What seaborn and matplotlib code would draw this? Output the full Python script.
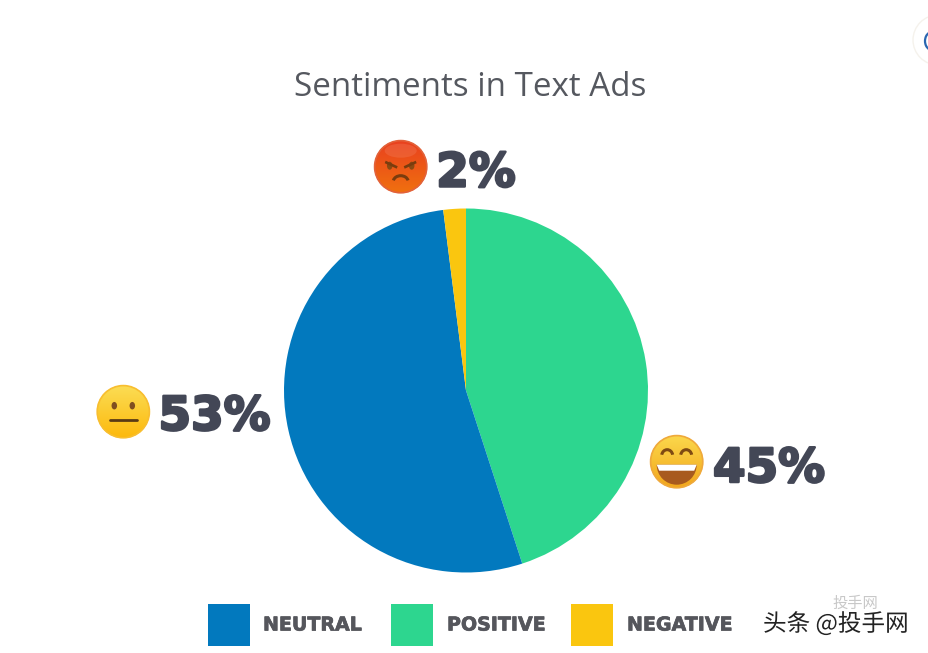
import numpy as np
import matplotlib
matplotlib.use("Agg")
import matplotlib.pyplot as plt
import matplotlib.patheffects as pe
from matplotlib.patches import Circle, Rectangle, Arc, Polygon, Ellipse, Wedge
from matplotlib.colors import LinearSegmentedColormap
import seaborn as sns

# ---- data ----
title = "Sentiments in Text Ads"
pie_categories = ["POSITIVE", "NEUTRAL", "NEGATIVE"]
pie_values = [45, 53, 2]
legend_labels = ["NEUTRAL", "POSITIVE", "NEGATIVE"]
value_labels = ["2%", "53%", "45%"]
colors = {"NEUTRAL": "#0279BE", "POSITIVE": "#2DD68F", "NEGATIVE": "#FAC60F"}
watermark = "头条 @投手网"

sns.set_theme(style="white")
plt.rcParams["font.family"] = ["Open Sans", "Noto Sans CJK SC", "DejaVu Sans"]

W, H = 929, 653
fig = plt.figure(figsize=(W / 100, H / 100), dpi=100, facecolor="white")

# pie axes: centre (466, 390.5), radius 182 px
cx, cy, R = 466, 390.5, 182
ax = fig.add_axes([(cx - R) / W, 1 - (cy + R) / H, 2 * R / W, 2 * R / H])
palette = sns.color_palette([colors[c] for c in pie_categories])
ax.pie(pie_values, colors=palette, startangle=90, counterclock=False, radius=1,
       wedgeprops=dict(linewidth=0))
ax.set_xlim(-1, 1)
ax.set_ylim(-1, 1)
ax.set_aspect("equal")

# overlay in pixel coordinates for annotations
ov = fig.add_axes([0, 0, 1, 1], zorder=5)
ov.set_xlim(0, W)
ov.set_ylim(H, 0)
ov.axis("off")
ov.patch.set_alpha(0)

ov.text(470, 96, title, ha="center", va="baseline", fontsize=23.9,
        color="#55585f", family="Open Sans")

TXT = "#434756"
stroke = [pe.withStroke(linewidth=1.8, foreground=TXT)]
for lab, x, y in zip(value_labels, [476, 214.5, 769], [186.5, 430, 482]):
    ov.text(x, y, lab, ha="center", va="baseline", fontsize=33.7, fontweight="bold",
            color=TXT, family="DejaVu Sans", path_effects=stroke)


def face(x, y, r, top, bottom, rim):
    n = 128
    yy, xx = np.mgrid[-1:1:n * 1j, -1:1:n * 1j]
    cmap = LinearSegmentedColormap.from_list("f", [top, bottom])
    im = ov.imshow(yy, extent=[x - r, x + r, y + r, y - r], cmap=cmap, vmin=-1, vmax=1,
                   origin="upper", aspect="auto", zorder=2)
    clip = Circle((x, y), r, transform=ov.transData)
    im.set_clip_path(clip)
    ov.add_patch(Circle((x, y), r - 0.4, fc="none", ec=rim, lw=1.2, zorder=3))


# angry face
ax0, ay0 = 400.7, 166.7
face(ax0, ay0, 26.5, "#E9401F", "#F0700F", "#E2623A")
ov.add_patch(Ellipse((ax0, ay0 - 16), 32, 14, fc="#F9A58A", ec="none", alpha=.2, zorder=3))
for s in (-1, 1):
    ov.add_patch(Ellipse((ax0 + s * 11, ay0 - 1), 5.5, 8, fc="#8A4A12", ec="none", zorder=4))
    ov.add_patch(Polygon([(ax0 + s * 3, ay0 - 0.5), (ax0 + s * 15, ay0 - 6),
                          (ax0 + s * 16, ay0 - 3.5), (ax0 + s * 4, ay0 + 2)],
                         fc="#7A3C0E", ec="none", zorder=5))
ov.add_patch(Arc((ax0, ay0 + 15), 15, 12, theta1=190, theta2=350, ec="#7A3C0E", lw=2.2, zorder=5))

# neutral face
nx, ny = 123.3, 411.7
face(nx, ny, 26.5, "#FBDD55", "#FDB90C", "#F8BE30")
for s in (-1, 1):
    ov.add_patch(Ellipse((nx + s * 9, ny - 6), 5.5, 7.5, fc="#7F4F20", ec="none", zorder=4))
ov.plot([nx - 13.5, nx + 13.5], [ny + 8, ny + 8], color="#5A3A14", lw=2, zorder=4,
        solid_capstyle="round")

# grinning face
gx, gy = 676.7, 461.7
face(gx, gy, 26.5, "#FBD84C", "#F3A71B", "#EFA93C")
for s in (-1, 1):
    ov.add_patch(Arc((gx + s * 9.5, gy - 6), 11, 12, theta1=190, theta2=350,
                     ec="#7F4A12", lw=2.2, zorder=4))
ov.add_patch(Wedge((gx, gy + 3), 20, 0, 180, fc="#A85A1E", ec="none", zorder=4))
ov.add_patch(Polygon([(gx - 20, gy + 3), (gx + 20, gy + 3), (gx + 17.5, gy + 9), (gx - 17.5, gy + 9)],
                     fc="white", ec="none", zorder=5))

# legend
for lab, bx, tx in zip(legend_labels, [208, 391, 571], [263, 447, 627]):
    ov.add_patch(Rectangle((bx, 604), 42, 42, fc=colors[lab], ec="none", zorder=2))
    ov.text(tx, 630.5, lab, ha="left", va="baseline", fontsize=13.7, fontweight="bold",
            color="#55565c", family="DejaVu Sans",
            path_effects=[pe.withStroke(linewidth=0.5, foreground="#55565c")])

# watermark
ov.text(832, 608, "投手网", ha="left", va="baseline", fontsize=11, color="#c8c8c8",
        family="Noto Sans CJK SC", zorder=3)
ov.text(763, 631, watermark, ha="left", va="baseline", fontsize=17, color="#222222",
        family=["Noto Sans CJK SC", "DejaVu Sans"], zorder=6,
        path_effects=[pe.withStroke(linewidth=1.5, foreground="white")])

# corner badge with a cropped blue glyph
ov.add_patch(Circle((938, 40), 25, fc="white", ec="#f5f2ec", lw=1, zorder=3))
ov.add_patch(Arc((932, 41), 14, 18, theta1=60, theta2=300, ec="#2a66b0", lw=1.6, zorder=4))

fig.savefig("out.png", dpi=100, facecolor="white")
